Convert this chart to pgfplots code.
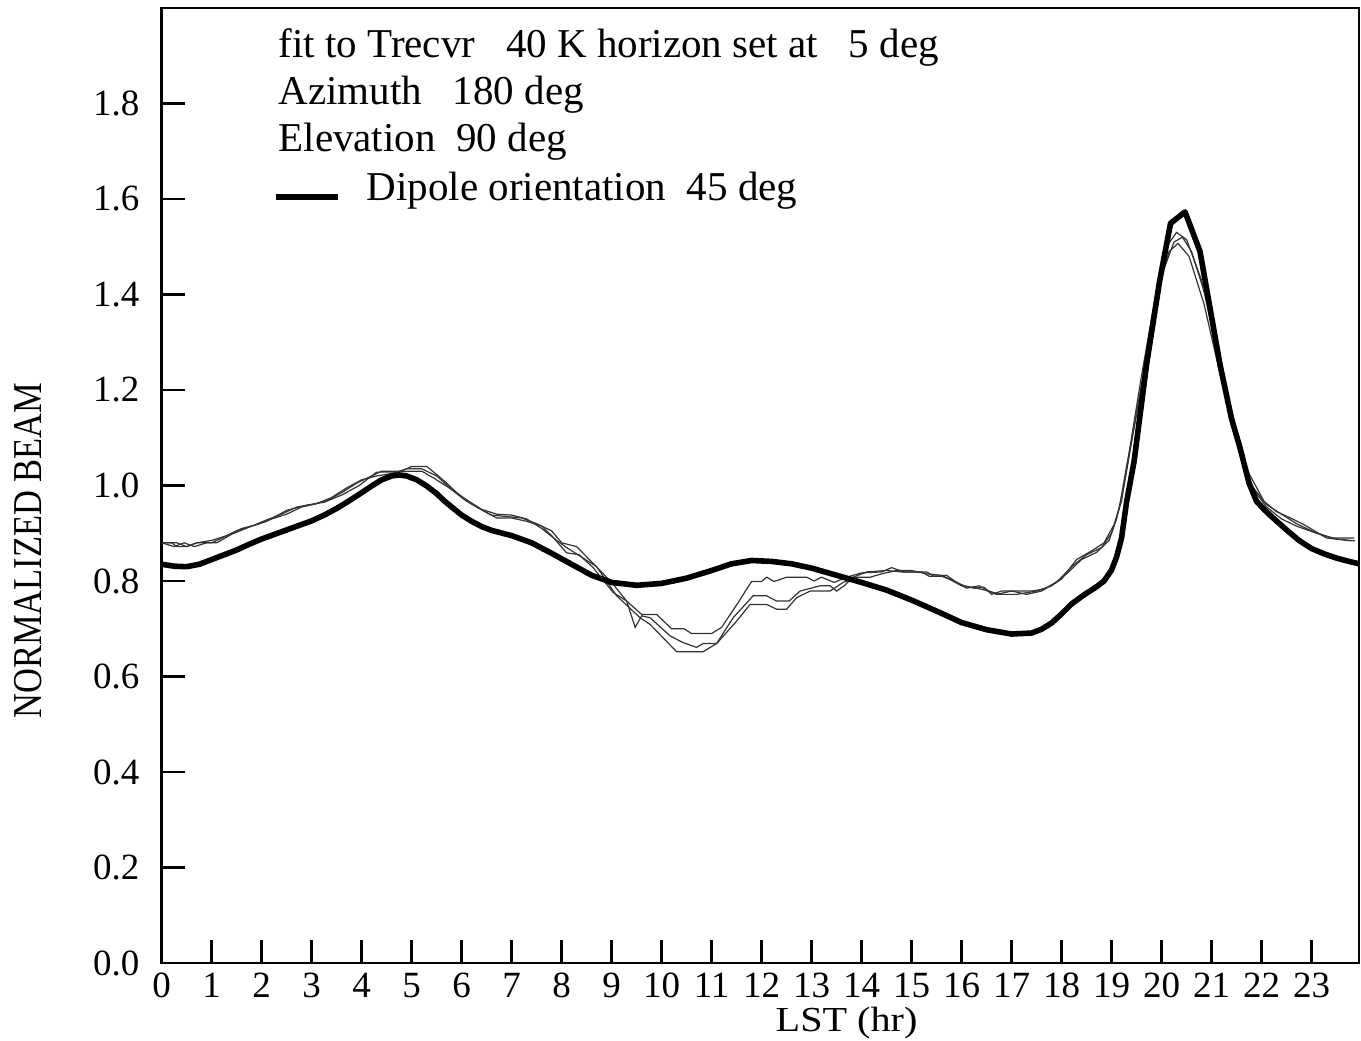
\documentclass[border=0pt]{standalone}
\usepackage{fontspec}
\setmainfont{Liberation Serif}
\usepackage{pgfplots}
\pgfplotsset{compat=1.18}
\newcommand{\tickfont}{\fontsize{18.5}{20}\selectfont}
\newcommand{\txtfont}{\fontsize{20.5}{24}\selectfont}
\begin{document}
\begin{tikzpicture}
\begin{axis}[
  width=598.5pt, height=477.4pt, scale only axis,
  xmin=0, xmax=23.95, ymin=0, ymax=2,
  axis line style={line width=1.4pt},
  tick align=inside, tick pos=left,
  major tick length=11.5pt,
  every tick/.style={black, line width=1.4pt},
  xtick={0,1,2,3,4,5,6,7,8,9,10,11,12,13,14,15,16,17,18,19,20,21,22,23},
  xticklabels={0,1,2,3,4,5,6,7,8,9,10,11,12,13,14,15,16,17,18,19,20,21,22,23},
  ytick={0,0.2,0.4,0.6,0.8,1.0,1.2,1.4,1.6,1.8},
  yticklabels={0.0,0.2,0.4,0.6,0.8,1.0,1.2,1.4,1.6,1.8},
  xticklabel style={font=\tickfont, anchor=base, inner sep=0pt, yshift=-17.2pt},
  yticklabel style={font=\tickfont, anchor=east, inner sep=0pt, xshift=-11pt},
  xlabel={LST (hr)}, ylabel={NORMALIZED BEAM},
  xlabel style={at={(axis description cs:0.572,-0.0712)}, anchor=base, font=\fontsize{19.5}{22}\selectfont, inner sep=0pt, xscale=1.03, yscale=0.9},
  ylabel style={at={(axis description cs:-0.1113,0.432)}, anchor=center, font=\txtfont, inner sep=0pt, xscale=0.84},
  legend style={at={(axis cs:2.22,1.623)}, anchor=west, draw=none, fill=none, inner sep=0pt,
    font=\txtfont, nodes={inner sep=0pt}, /tikz/every odd column/.append style={column sep=13pt}},
  legend image code/.code={\draw[line width=2.8pt] (0pt,-4.5pt) -- (31pt,-4.5pt);},
  clip=true,
]
% thin data curve A
\addplot[black!80, line width=0.6pt, forget plot] coordinates {
(0.0,0.880)(0.2,0.880)(0.3,0.872)(0.5,0.872)(0.7,0.880)(1.0,0.880)(1.2,0.890)(1.5,0.905)
(1.8,0.915)(2.1,0.928)(2.4,0.940)(2.7,0.955)(3.0,0.960)(3.3,0.968)(3.6,0.985)(3.9,1.005)
(4.2,1.020)(4.4,1.030)(4.8,1.030)(5.0,1.040)(5.3,1.040)(5.5,1.023)(5.7,1.005)(6.0,0.975)
(6.3,0.955)(6.6,0.938)(6.9,0.935)(7.2,0.932)(7.5,0.920)(7.8,0.905)(8.0,0.880)(8.3,0.872)
(8.6,0.840)(9.0,0.797)(9.3,0.758)(9.6,0.730)(9.9,0.730)(10.2,0.700)(10.45,0.700)(10.6,0.690)
(11.0,0.690)(11.2,0.703)(11.5,0.750)(11.8,0.799)(12.0,0.799)(12.1,0.808)(12.25,0.799)(12.5,0.808)
(12.9,0.808)(13.05,0.800)(13.2,0.808)(13.45,0.797)(13.7,0.808)(14.0,0.817)(14.4,0.819)(14.6,0.828)
(14.85,0.819)(15.2,0.819)(15.35,0.810)(15.6,0.810)(15.75,0.804)(16.0,0.790)(16.25,0.785)(16.45,0.787)
(16.6,0.772)(16.8,0.779)(17.4,0.779)(17.65,0.783)(18.0,0.804)(18.3,0.845)(18.6,0.863)(18.85,0.880)
(19.05,0.918)(19.2,0.967)(19.4,1.10)(19.6,1.23)(19.85,1.38)(20.1,1.50)(20.3,1.53)(20.5,1.515)
(20.8,1.43)(21.2,1.24)(21.5,1.10)(21.75,1.025)(22.05,0.967)(22.3,0.945)(22.5,0.936)(22.85,0.918)
(23.3,0.890)(23.8,0.884)
};
% thin data curve B
\addplot[black!80, line width=0.6pt, forget plot] coordinates {
(0.0,0.880)(0.25,0.872)(0.45,0.880)(0.65,0.872)(0.9,0.880)(1.1,0.880)(1.4,0.898)(1.8,0.915)
(2.1,0.925)(2.5,0.948)(2.9,0.959)(3.25,0.965)(3.6,0.980)(3.95,1.000)(4.3,1.028)(4.7,1.028)
(4.95,1.030)(5.2,1.030)(5.45,1.015)(5.75,0.995)(6.1,0.967)(6.45,0.946)(6.7,0.932)(7.0,0.932)
(7.3,0.925)(7.6,0.915)(7.8,0.895)(8.1,0.859)(8.35,0.855)(8.63,0.828)(9.03,0.776)(9.3,0.758)
(9.47,0.703)(9.6,0.727)(9.77,0.723)(10.17,0.685)(10.43,0.671)(10.7,0.661)(10.83,0.669)(11.1,0.669)
(11.43,0.723)(11.83,0.769)(12.1,0.769)(12.3,0.758)(12.55,0.758)(12.77,0.779)(13.17,0.790)(13.37,0.790)
(13.5,0.779)(13.65,0.790)(13.83,0.808)(14.1,0.819)(14.5,0.822)(14.8,0.819)(15.3,0.819)(15.45,0.810)
(15.7,0.812)(15.9,0.797)(16.1,0.785)(16.35,0.790)(16.55,0.779)(16.75,0.772)(17.1,0.772)(17.5,0.779)
(17.8,0.790)(18.1,0.815)(18.4,0.845)(18.7,0.860)(18.95,0.885)(19.1,0.930)(19.25,1.000)(19.45,1.12)
(19.7,1.27)(19.95,1.42)(20.15,1.49)(20.33,1.507)(20.55,1.48)(20.85,1.38)(21.2,1.22)(21.5,1.09)
(21.8,1.00)(22.1,0.960)(22.4,0.940)(22.7,0.920)(23.0,0.905)(23.4,0.890)(23.85,0.890)
};
% thin data curve C
\addplot[black!80, line width=0.6pt, forget plot] coordinates {
(0.0,0.880)(0.3,0.880)(0.5,0.872)(0.7,0.880)(1.0,0.885)(1.3,0.895)(1.6,0.910)(1.9,0.918)
(2.2,0.930)(2.5,0.940)(2.8,0.955)(3.1,0.962)(3.4,0.975)(3.7,0.995)(4.0,1.012)(4.3,1.020)
(4.6,1.025)(4.9,1.035)(5.2,1.035)(5.5,1.020)(5.8,0.992)(6.1,0.970)(6.4,0.950)(6.7,0.940)
(7.0,0.938)(7.3,0.930)(7.6,0.910)(7.9,0.885)(8.1,0.870)(8.4,0.850)(8.7,0.830)(9.1,0.769)
(9.57,0.723)(9.77,0.709)(10.03,0.681)(10.3,0.652)(10.83,0.652)(11.1,0.669)(11.5,0.716)(11.77,0.751)
(12.1,0.751)(12.3,0.741)(12.5,0.741)(12.7,0.765)(12.97,0.779)(13.37,0.779)(13.63,0.797)(13.9,0.808)
(14.17,0.808)(14.4,0.815)(14.7,0.822)(15.0,0.822)(15.3,0.815)(15.6,0.812)(15.85,0.800)(16.05,0.790)
(16.3,0.785)(16.5,0.780)(16.7,0.772)(17.0,0.779)(17.3,0.772)(17.6,0.779)(17.9,0.797)(18.2,0.830)
(18.5,0.855)(18.8,0.870)(19.0,0.900)(19.15,0.950)(19.3,1.04)(19.5,1.15)(19.75,1.30)(20.0,1.44)
(20.25,1.51)(20.42,1.52)(20.6,1.49)(20.9,1.39)(21.25,1.21)(21.55,1.07)(21.85,0.99)(22.1,0.955)
(22.4,0.930)(22.7,0.915)(23.1,0.900)(23.5,0.888)(23.87,0.884)
};
% thick dipole model
\addplot[black, line width=2.8pt, line join=round] coordinates {
(0,0.835)(0.25,0.831)(0.5,0.830)(0.75,0.835)(1.0,0.845)(1.25,0.855)(1.5,0.865)(1.75,0.877)(2.0,0.888)
(2.5,0.907)(3.0,0.926)(3.25,0.938)(3.5,0.952)(3.75,0.968)(4.0,0.985)(4.2,0.999)(4.4,1.012)(4.6,1.020)
(4.75,1.022)(4.9,1.020)(5.1,1.012)(5.3,0.999)(5.5,0.983)(5.65,0.968)(5.8,0.955)(6.0,0.938)(6.2,0.925)
(6.4,0.914)(6.6,0.906)(7.0,0.895)(7.4,0.880)(7.8,0.858)(8.2,0.835)(8.6,0.812)(9.0,0.797)(9.5,0.791)
(10.0,0.795)(10.5,0.806)(11.0,0.822)(11.4,0.836)(11.8,0.843)(12.2,0.841)(12.6,0.836)(13.0,0.827)
(13.5,0.812)(14.0,0.797)(14.5,0.781)(15.0,0.760)(15.5,0.737)(16.0,0.713)(16.5,0.698)(17.0,0.689)
(17.4,0.691)(17.6,0.699)(17.8,0.712)(18.0,0.731)(18.2,0.752)(18.45,0.771)(18.7,0.788)(18.85,0.800)
(19.0,0.823)(19.1,0.850)(19.2,0.890)(19.3,0.965)(19.45,1.05)(19.7,1.253)(19.96,1.427)(20.18,1.549)
(20.47,1.573)(20.77,1.49)(21.17,1.253)(21.4,1.140)(21.57,1.079)(21.75,1.005)(21.9,0.967)(22.05,0.950)
(22.2,0.935)(22.5,0.907)(22.75,0.885)(23.0,0.868)(23.25,0.857)(23.5,0.848)(23.75,0.841)(24.0,0.835)
};
\addlegendentry{Dipole orientation\ \ 45 deg}
\node[anchor=west, inner sep=0pt, font=\txtfont] at (axis cs:2.33,1.918) {fit to Trecvr\ \ \ 40 K horizon set at\ \ \ 5 deg};
\node[anchor=west, inner sep=0pt, font=\txtfont] at (axis cs:2.33,1.818) {Azimuth\ \ \ 180 deg};
\node[anchor=west, inner sep=0pt, font=\txtfont] at (axis cs:2.33,1.720) {Elevation\ \ 90 deg};
\coordinate (SW) at (rel axis cs:0,0);
\coordinate (NE) at (rel axis cs:1,1);
\end{axis}
\path (SW) ++(-80.85pt,-38.6pt) coordinate (BL);
\path (NE) ++(1pt,4pt) coordinate (TR);
\pgfresetboundingbox
\path (BL) rectangle (TR);
\end{tikzpicture}
\end{document}
